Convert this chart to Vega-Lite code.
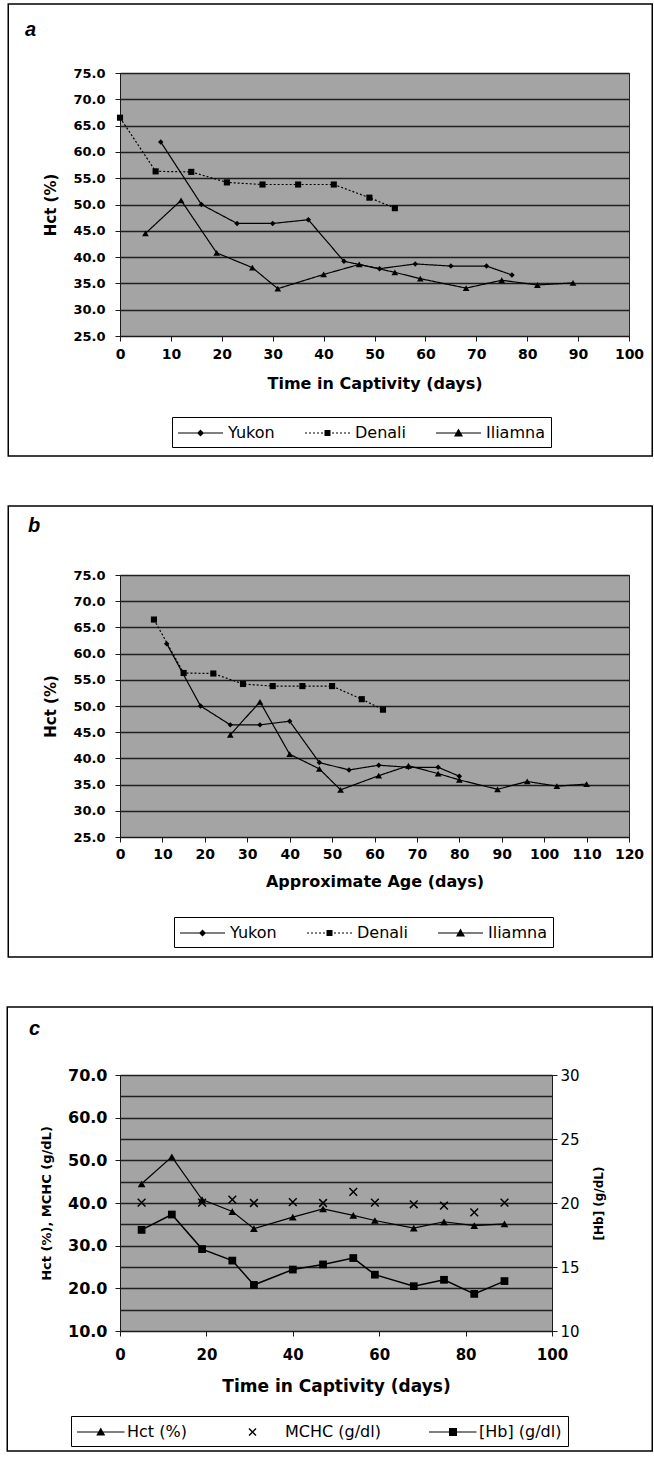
{
  "$schema": "https://vega.github.io/schema/vega-lite/v6.json",
  "background": "white",
  "padding": {"left": 24, "top": 2, "right": 0, "bottom": 0},
  "spacing": 44,
  "resolve": {"scale": {"shape": "independent", "size": "independent", "strokeDash": "independent"}},
  "datasets": {
    "bears": [
      {"series": "Yukon", "day": 8, "age": 11, "hct": 61.9},
      {"series": "Yukon", "day": 16, "age": 19, "hct": 50.0},
      {"series": "Yukon", "day": 23, "age": 26, "hct": 46.4},
      {"series": "Yukon", "day": 30, "age": 33, "hct": 46.4},
      {"series": "Yukon", "day": 37, "age": 40, "hct": 47.1},
      {"series": "Yukon", "day": 44, "age": 47, "hct": 39.2},
      {"series": "Yukon", "day": 51, "age": 54, "hct": 37.8},
      {"series": "Yukon", "day": 58, "age": 61, "hct": 38.7},
      {"series": "Yukon", "day": 65, "age": 68, "hct": 38.3},
      {"series": "Yukon", "day": 72, "age": 75, "hct": 38.3},
      {"series": "Yukon", "day": 77, "age": 80, "hct": 36.6},
      {"series": "Denali", "day": 0, "age": 8, "hct": 66.5},
      {"series": "Denali", "day": 7, "age": 15, "hct": 56.3},
      {"series": "Denali", "day": 14, "age": 22, "hct": 56.2},
      {"series": "Denali", "day": 21, "age": 29, "hct": 54.2},
      {"series": "Denali", "day": 28, "age": 36, "hct": 53.8},
      {"series": "Denali", "day": 35, "age": 43, "hct": 53.8},
      {"series": "Denali", "day": 42, "age": 50, "hct": 53.8},
      {"series": "Denali", "day": 49, "age": 57, "hct": 51.3},
      {"series": "Denali", "day": 54, "age": 62, "hct": 49.3},
      {"series": "Iliamna", "day": 5, "age": 26, "hct": 44.5},
      {"series": "Iliamna", "day": 12, "age": 33, "hct": 50.8},
      {"series": "Iliamna", "day": 19, "age": 40, "hct": 40.8},
      {"series": "Iliamna", "day": 26, "age": 47, "hct": 38.0},
      {"series": "Iliamna", "day": 31, "age": 52, "hct": 34.0},
      {"series": "Iliamna", "day": 40, "age": 61, "hct": 36.7},
      {"series": "Iliamna", "day": 47, "age": 68, "hct": 38.6},
      {"series": "Iliamna", "day": 54, "age": 75, "hct": 37.1},
      {"series": "Iliamna", "day": 59, "age": 80, "hct": 35.9},
      {"series": "Iliamna", "day": 68, "age": 89, "hct": 34.1},
      {"series": "Iliamna", "day": 75, "age": 96, "hct": 35.6},
      {"series": "Iliamna", "day": 82, "age": 103, "hct": 34.7},
      {"series": "Iliamna", "day": 89, "age": 110, "hct": 35.1}
    ],
    "blood": [
      {"day": 5, "hct": 44.5, "mchc": 40.1, "hb": 17.9},
      {"day": 12, "hct": 50.8, "mchc": null, "hb": 19.1},
      {"day": 19, "hct": 40.8, "mchc": 40.1, "hb": 16.4},
      {"day": 26, "hct": 38.0, "mchc": 40.8, "hb": 15.5},
      {"day": 31, "hct": 34.0, "mchc": 40.0, "hb": 13.6},
      {"day": 40, "hct": 36.7, "mchc": 40.2, "hb": 14.8},
      {"day": 47, "hct": 38.6, "mchc": 40.0, "hb": 15.2},
      {"day": 54, "hct": 37.1, "mchc": 42.6, "hb": 15.7},
      {"day": 59, "hct": 35.9, "mchc": 40.1, "hb": 14.4},
      {"day": 68, "hct": 34.1, "mchc": 39.7, "hb": 13.5},
      {"day": 75, "hct": 35.6, "mchc": 39.4, "hb": 14.0},
      {"day": 82, "hct": 34.7, "mchc": 37.8, "hb": 12.9},
      {"day": 89, "hct": 35.1, "mchc": 40.1, "hb": 13.9}
    ]
  },
  "vconcat": [
    {
      "width": 509,
      "height": 263,
      "title": {"text": "a", "dx": -95, "offset": -37},
      "data": {"name": "bears"},
      "encoding": {
        "x": {"field": "day", "type": "quantitative", "scale": {"domain": [0, 100], "nice": false},
              "axis": {"title": "Time in Captivity (days)", "values": [0, 10, 20, 30, 40, 50, 60, 70, 80, 90, 100], "grid": false, "labelPadding": 6, "titlePadding": 14, "labelFontSize": 14, "titleFontSize": 16}},
        "y": {"field": "hct", "type": "quantitative", "scale": {"domain": [25, 75], "nice": false, "zero": false},
              "axis": {"title": "Hct (%)", "values": [25, 30, 35, 40, 45, 50, 55, 60, 65, 70, 75], "format": ".1f", "grid": true, "labelPadding": 10, "labelFontSize": 13, "titleFontSize": 15, "titlePadding": 14}}
      },
      "layer": [
        {
          "mark": {"type": "line", "color": "black", "strokeWidth": 1.2},
          "encoding": {
            "strokeDash": {"field": "series", "type": "nominal", "scale": {"domain": ["Yukon", "Denali", "Iliamna"], "range": [[1, 0], [2, 2], [1, 0]]}, "legend": null}
          }
        },
        {
          "mark": {"type": "point", "filled": true, "color": "black", "opacity": 1},
          "encoding": {
            "shape": {"field": "series", "type": "nominal", "scale": {"domain": ["Yukon", "Denali", "Iliamna"], "range": ["diamond", "square", "triangle-up"]}, "legend": null},
            "size": {"field": "series", "type": "nominal", "scale": {"domain": ["Yukon", "Denali", "Iliamna"], "range": [30, 45, 80]}, "legend": null}
          }
        },
        {
          "transform": [{"filter": "false"}],
          "mark": {"type": "point", "filled": true, "fill": "black", "stroke": "black", "strokeWidth": 1, "size": 400, "opacity": 1},
          "encoding": {
            "shape": {"field": "series", "type": "nominal",
              "scale": {"domain": ["Yukon", "Denali", "Iliamna"], "range": [
                "M-1,-0.05H3.5V0.05H-1ZM1.25,-0.35L1.6,0L1.25,0.35L0.9,0Z",
                "M-1,-0.05H-0.8V0.05H-1ZM-0.6,-0.05H-0.4V0.05H-0.6ZM-0.2,-0.05H0V0.05H-0.2ZM0.2,-0.05H0.4V0.05H0.2ZM0.6,-0.05H0.8V0.05H0.6ZM1.7,-0.05H1.9V0.05H1.7ZM2.1,-0.05H2.3V0.05H2.1ZM2.5,-0.05H2.7V0.05H2.5ZM2.9,-0.05H3.1V0.05H2.9ZM3.3,-0.05H3.5V0.05H3.3ZM0.95,-0.3H1.55V0.3H0.95Z",
                "M-1,-0.05H3.5V0.05H-1ZM1.25,-0.45L1.7,0.35H0.8Z"]},
              "legend": {"orient": "none", "legendX": 52, "legendY": 344, "direction": "horizontal", "title": null, "columnPadding": 30}}
          }
        },
        {
          "transform": [{"filter": "false"}],
          "mark": {"type": "point", "filled": false, "color": "black", "strokeWidth": 1.5, "opacity": 1},
          "encoding": {
            "shape": {"field": "frame", "type": "nominal",
              "scale": {"domain": ["frame"], "range": ["M-1.4248,-1H1.4248V1H-1.4248Z"]},
              "legend": {"orient": "none", "legendX": -16.75, "legendY": -70, "title": null, "padding": 0,
                         "strokeColor": "transparent", "fillColor": "transparent", "symbolSize": 204304,
                         "symbolStrokeWidth": 1.5, "symbolStrokeColor": "black", "symbolFillColor": "transparent",
                         "labelExpr": "''", "labelOffset": 0}}
          }
        }
      ],
      "resolve": {"scale": {"shape": "independent"}}
    },
    {
      "width": 509,
      "height": 262,
      "title": {"text": "b", "dx": -92, "offset": -31},
      "data": {"name": "bears"},
      "encoding": {
        "x": {"field": "age", "type": "quantitative", "scale": {"domain": [0, 120], "nice": false},
              "axis": {"title": "Approximate Age (days)", "values": [0, 10, 20, 30, 40, 50, 60, 70, 80, 90, 100, 110, 120], "grid": false, "labelPadding": 5, "titlePadding": 12, "labelFontSize": 14, "titleFontSize": 16}},
        "y": {"field": "hct", "type": "quantitative", "scale": {"domain": [25, 75], "nice": false, "zero": false},
              "axis": {"title": "Hct (%)", "values": [25, 30, 35, 40, 45, 50, 55, 60, 65, 70, 75], "format": ".1f", "grid": true, "labelPadding": 10, "labelFontSize": 13, "titleFontSize": 15, "titlePadding": 14}}
      },
      "layer": [
        {
          "mark": {"type": "line", "color": "black", "strokeWidth": 1.2},
          "encoding": {
            "strokeDash": {"field": "series", "type": "nominal", "scale": {"domain": ["Yukon", "Denali", "Iliamna"], "range": [[1, 0], [2, 2], [1, 0]]}, "legend": null}
          }
        },
        {
          "mark": {"type": "point", "filled": true, "color": "black", "opacity": 1},
          "encoding": {
            "shape": {"field": "series", "type": "nominal", "scale": {"domain": ["Yukon", "Denali", "Iliamna"], "range": ["diamond", "square", "triangle-up"]}, "legend": null},
            "size": {"field": "series", "type": "nominal", "scale": {"domain": ["Yukon", "Denali", "Iliamna"], "range": [30, 45, 80]}, "legend": null}
          }
        },
        {
          "transform": [{"filter": "false"}],
          "mark": {"type": "point", "filled": true, "fill": "black", "stroke": "black", "strokeWidth": 1, "size": 400, "opacity": 1},
          "encoding": {
            "shape": {"field": "series", "type": "nominal",
              "scale": {"domain": ["Yukon", "Denali", "Iliamna"], "range": [
                "M-1,-0.05H3.5V0.05H-1ZM1.25,-0.35L1.6,0L1.25,0.35L0.9,0Z",
                "M-1,-0.05H-0.8V0.05H-1ZM-0.6,-0.05H-0.4V0.05H-0.6ZM-0.2,-0.05H0V0.05H-0.2ZM0.2,-0.05H0.4V0.05H0.2ZM0.6,-0.05H0.8V0.05H0.6ZM1.7,-0.05H1.9V0.05H1.7ZM2.1,-0.05H2.3V0.05H2.1ZM2.5,-0.05H2.7V0.05H2.5ZM2.9,-0.05H3.1V0.05H2.9ZM3.3,-0.05H3.5V0.05H3.3ZM0.95,-0.3H1.55V0.3H0.95Z",
                "M-1,-0.05H3.5V0.05H-1ZM1.25,-0.45L1.7,0.35H0.8Z"]},
              "legend": {"orient": "none", "legendX": 54, "legendY": 342, "direction": "horizontal", "title": null, "columnPadding": 30}}
          }
        },
        {
          "transform": [{"filter": "false"}],
          "mark": {"type": "point", "filled": false, "color": "black", "strokeWidth": 1.5, "opacity": 1},
          "encoding": {
            "shape": {"field": "frame", "type": "nominal",
              "scale": {"domain": ["frame"], "range": ["M-1.4279,-1H1.4279V1H-1.4279Z"]},
              "legend": {"orient": "none", "legendX": -16.25, "legendY": -70, "title": null, "padding": 0,
                         "strokeColor": "transparent", "fillColor": "transparent", "symbolSize": 203401,
                         "symbolStrokeWidth": 1.5, "symbolStrokeColor": "black", "symbolFillColor": "transparent",
                         "labelExpr": "''", "labelOffset": 0}}
          }
        }
      ],
      "resolve": {"scale": {"shape": "independent"}}
    },
    {
      "width": 432,
      "height": 256,
      "title": {"text": "c", "dx": -91, "offset": -33},
      "data": {"name": "blood"},
      "layer": [
        {
          "encoding": {
            "x": {"field": "day", "type": "quantitative", "scale": {"domain": [0, 100], "nice": false},
                  "axis": {"title": "Time in Captivity (days)", "values": [0, 20, 40, 60, 80, 100], "grid": false, "labelPadding": 11, "titlePadding": 16, "labelFontSize": 15, "titleFontSize": 17}},
            "y": {"field": "hct", "type": "quantitative", "scale": {"domain": [10, 70], "nice": false, "zero": false},
                  "axis": {"title": "Hct (%), MCHC (g/dL)", "values": [10, 15, 20, 25, 30, 35, 40, 45, 50, 55, 60, 65, 70],
                           "labelExpr": "datum.value % 10 === 0 ? format(datum.value, '.1f') : ''",
                           "tickOpacity": {"condition": {"test": "datum.value % 10 !== 0", "value": 0}, "value": 1},
                           "grid": true, "labelPadding": 8, "labelFontSize": 16, "titleFontSize": 13, "titlePadding": 14}}
          },
          "layer": [
            {
              "mark": {"type": "line", "color": "black", "strokeWidth": 1.2}
            },
            {
              "mark": {"type": "point", "shape": "triangle-up", "filled": true, "color": "black", "opacity": 1, "size": 60}
            },
            {
              "mark": {"type": "point", "shape": "M-1,-1L1,1M-1,1L1,-1", "filled": false, "color": "black", "opacity": 1, "size": 60, "strokeWidth": 1.5},
              "encoding": {
                "y": {"field": "mchc", "type": "quantitative", "scale": {"domain": [10, 70], "nice": false, "zero": false}}
              }
            },
            {
              "transform": [{"filter": "false"}],
              "mark": {"type": "point", "filled": true, "fill": "black", "stroke": "black", "strokeWidth": 1, "size": 400, "opacity": 1},
              "encoding": {
                "shape": {"field": "measure", "type": "nominal",
                  "scale": {"domain": ["Hct (%)", "MCHC (g/dl)", "[Hb] (g/dl)"], "range": [
                    "M-1,-0.05H3.75V0.05H-1ZM1.375,-0.45L1.825,0.35H0.925Z",
                    "M0.35,-0.3L0.45,-0.4L1.15,0.3L1.05,0.4ZM0.35,0.3L1.05,-0.4L1.15,-0.3L0.45,0.4Z",
                    "M-1,-0.06H3.75V0.06H-1ZM1.0,-0.4H1.8V0.4H1.0Z"]},
                  "legend": {"orient": "none", "legendX": -49, "legendY": 341, "direction": "horizontal", "title": null, "columnPadding": 48}}
              }
            },
            {
              "transform": [{"filter": "false"}],
              "mark": {"type": "point", "filled": false, "color": "black", "strokeWidth": 1.5, "opacity": 1},
              "encoding": {
                "shape": {"field": "frame", "type": "nominal",
                  "scale": {"domain": ["frame"], "range": ["M-1.4527,-1H1.4527V1H-1.4527Z"]},
                  "legend": {"orient": "none", "legendX": -13.25, "legendY": -69, "title": null, "padding": 0,
                             "strokeColor": "transparent", "fillColor": "transparent", "symbolSize": 197136,
                             "symbolStrokeWidth": 1.5, "symbolStrokeColor": "black", "symbolFillColor": "transparent",
                             "labelExpr": "''", "labelOffset": 0}}
              }
            }
          ],
          "resolve": {"scale": {"shape": "independent"}}
        },
        {
          "encoding": {
            "x": {"field": "day", "type": "quantitative", "scale": {"domain": [0, 100], "nice": false},
                  "axis": {"title": "Time in Captivity (days)", "values": [0, 20, 40, 60, 80, 100], "grid": false, "labelPadding": 11, "titlePadding": 16, "labelFontSize": 15, "titleFontSize": 17}},
            "y": {"field": "hb", "type": "quantitative", "scale": {"domain": [10, 30], "nice": false, "zero": false},
                  "axis": {"orient": "right", "title": "[Hb] (g/dL)", "values": [10, 15, 20, 25, 30], "format": "d", "grid": false,
                           "labelPadding": 3, "labelFontSize": 15, "labelFontWeight": "normal", "titleFontSize": 12, "titleAngle": 270, "titlePadding": 26}}
          },
          "layer": [
            {"mark": {"type": "line", "color": "black", "strokeWidth": 1.5}},
            {"mark": {"type": "point", "shape": "square", "filled": true, "color": "black", "opacity": 1, "size": 60}}
          ]
        }
      ],
      "resolve": {"scale": {"y": "independent", "shape": "independent"}}
    }
  ],
  "config": {
    "view": {"fill": "#a4a4a4", "stroke": "#2a2a2a", "strokeWidth": 1},
    "axis": {
      "labelFont": "DejaVu Sans", "labelFontWeight": "bold", "labelColor": "black",
      "titleFont": "DejaVu Sans", "titleFontWeight": "bold", "titleColor": "black",
      "domainColor": "#1a1a1a", "tickColor": "#1a1a1a", "tickSize": 5,
      "gridColor": "#1f1f1f", "gridWidth": 1.3, "gridOpacity": 1,
      "labelFlush": false, "labelOverlap": false, "labelBound": false
    },
    "legend": {
      "strokeColor": "black", "fillColor": "white", "padding": 6,
      "symbolSize": 400, "symbolFillColor": "black", "symbolStrokeColor": "black", "symbolStrokeWidth": 0, "symbolOpacity": 1,
      "labelFont": "DejaVu Sans", "labelFontSize": 16, "labelColor": "black",
      "labelOffset": 30, "columnPadding": 30, "labelLimit": 300
    },
    "title": {"anchor": "start", "frame": "group", "font": "Liberation Sans", "fontSize": 20, "fontWeight": "bold", "fontStyle": "italic", "color": "black"}
  }
}
